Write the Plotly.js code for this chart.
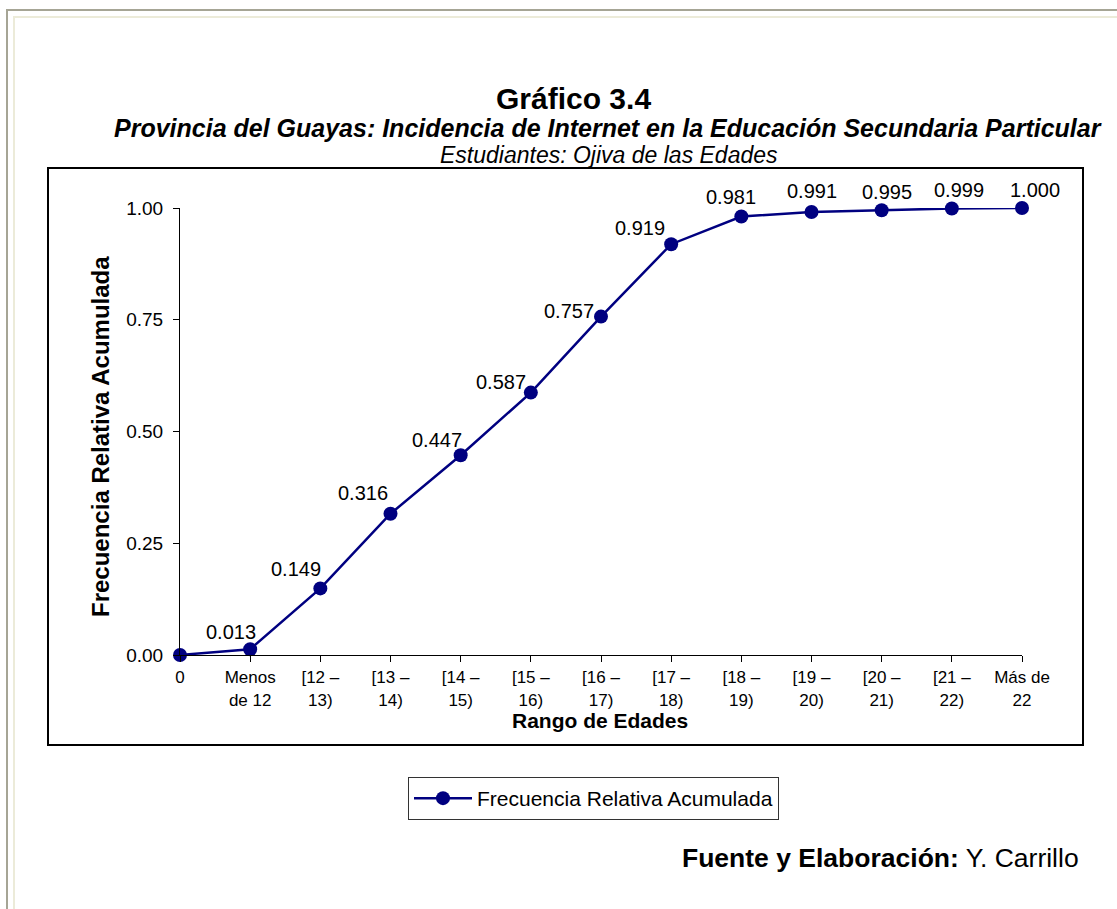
<!DOCTYPE html>
<html>
<head>
<meta charset="utf-8">
<script src="https://cdn.plot.ly/plotly-3.0.1.min.js"></script>
<style>
html,body{margin:0;padding:0;background:#fff;}
#chart{width:1117px;height:909px;}
</style>
</head>
<body>
<div id="chart"></div>
<script>
// ---- data ----
const categories = ["0","Menos<br>de 12","[12 –<br>13)","[13 –<br>14)","[14 –<br>15)","[15 –<br>16)","[16 –<br>17)","[17 –<br>18)","[18 –<br>19)","[19 –<br>20)","[20 –<br>21)","[21 –<br>22)","Más de<br>22"];
const cumFreq = [0, 0.013, 0.149, 0.316, 0.447, 0.587, 0.757, 0.919, 0.981, 0.991, 0.995, 0.999, 1.000];
const pointLabels = ["", "0.013", "0.149", "0.316", "0.447", "0.587", "0.757", "0.919", "0.981", "0.991", "0.995", "0.999", "1.000"];
const yTickVals = [0, 0.25, 0.5, 0.75, 1];
const yTickText = ["0.00", "0.25", "0.50", "0.75", "1.00"];
const seriesName = "Frecuencia Relativa Acumulada";
const xTitle = "Rango de Edades";
const yTitle = "Frecuencia Relativa Acumulada";

// label offsets (style only, pixels relative to each point)
const labelDX = [0, -19, -24, -28, -24, -30, -32, -31, -10, 0, 5, 7, 13];
const labelDY = [0, 17, 19, 21, 15, 11, 6, 16, 19, 21, 18, 18, 18];

// ---- layout geometry (pixels) ----
const W = 1117, H = 909;
const PL = 180, PR = 1022, PT = 208, PB = 655;
const px = x => (x - PL) / (PR - PL);
const py = y => (PB - y) / (PB - PT);

const FONT = "Liberation Sans, Arial, sans-serif";
const navy = "#000080";

const trace = {
  type: "scatter",
  mode: "lines+markers",
  x: categories,
  y: cumFreq,
  line: {color: navy, width: 2.5},
  marker: {color: navy, size: 14},
  name: seriesName,
  cliponaxis: false,
  hoverinfo: "x+y"
};

const labelAnnotations = categories.map((c, i) => ({
  x: c, y: cumFreq[i], xref: "x", yref: "y",
  text: pointLabels[i], showarrow: false,
  xanchor: "center", yanchor: "middle",
  xshift: labelDX[i], yshift: labelDY[i],
  font: {family: FONT, size: 20, color: "#000"}
})).filter(a => a.text !== "");

const layout = {
  width: W, height: H,
  paper_bgcolor: "#fff",
  plot_bgcolor: "#fff",
  margin: {l: PL, r: W - PR, t: PT, b: H - PB, pad: 0},
  font: {family: FONT, color: "#000"},
  showlegend: true,
  legend: {
    x: px(408), y: py(777), xanchor: "left", yanchor: "top",
    bordercolor: "#333", borderwidth: 1, bgcolor: "rgba(255,255,255,0)",
    font: {family: FONT, size: 21, color: "#000"},
    orientation: "h",
    itemwidth: 58,
    tracegroupgap: 0
  },
  xaxis: {
    type: "category",
    range: [0, 12],
    showgrid: false, zeroline: false,
    showline: true, linecolor: "#000", linewidth: 1,
    ticks: "outside", ticklen: 6, tickcolor: "#000", tickwidth: 1,
    tickfont: {family: FONT, size: 17, color: "#000"},
    ticklabelstandoff: 1,
    fixedrange: true
  },
  yaxis: {
    range: [0, 1],
    tickvals: yTickVals, ticktext: yTickText,
    showgrid: false, zeroline: false,
    showline: true, linecolor: "#000", linewidth: 1,
    ticks: "outside", ticklen: 6, tickcolor: "#000", tickwidth: 1,
    tickfont: {family: FONT, size: 19, color: "#000"},
    ticklabelstandoff: 6,
    fixedrange: true
  },
  shapes: [
    // outer page frame
    {type: "line", xref: "paper", yref: "paper", x0: px(7), x1: px(7), y0: py(10), y1: py(909), line: {color: "#a6a595", width: 2}},
    {type: "line", xref: "paper", yref: "paper", x0: px(6), x1: px(1117), y0: py(10), y1: py(10), line: {color: "#a6a595", width: 2}},
    {type: "line", xref: "paper", yref: "paper", x0: px(14), x1: px(14), y0: py(17), y1: py(909), line: {color: "#ecebd9", width: 2}},
    {type: "line", xref: "paper", yref: "paper", x0: px(13), x1: px(1117), y0: py(17), y1: py(17), line: {color: "#ecebd9", width: 2}},
    // chart box
    {type: "rect", xref: "paper", yref: "paper", x0: px(48), x1: px(1083), y0: py(168), y1: py(745), line: {color: "#000", width: 2}, layer: "below"}
  ],
  annotations: labelAnnotations.concat([
    {xref: "paper", yref: "paper", x: px(573), y: py(98), xanchor: "center", yanchor: "middle", showarrow: false,
     text: "<b>Gráfico 3.4</b>", font: {family: FONT, size: 30, color: "#000"}},
    {xref: "paper", yref: "paper", x: px(608), y: py(128), xanchor: "center", yanchor: "middle", showarrow: false,
     text: "<b><i>Provincia del Guayas: Incidencia de Internet en la Educación Secundaria Particular</i></b>", font: {family: FONT, size: 25, color: "#000"}},
    {xref: "paper", yref: "paper", x: px(609), y: py(155), xanchor: "center", yanchor: "middle", showarrow: false,
     text: "<i>Estudiantes: Ojiva de las Edades</i>", font: {family: FONT, size: 23, color: "#000"}},
    {xref: "paper", yref: "paper", x: px(600), y: py(720), xanchor: "center", yanchor: "middle", showarrow: false,
     text: "<b>" + xTitle + "</b>", font: {family: FONT, size: 21, color: "#000"}},
    {xref: "paper", yref: "paper", x: px(100), y: py(437), xanchor: "center", yanchor: "middle", showarrow: false, textangle: -90,
     text: "<b>" + yTitle + "</b>", font: {family: FONT, size: 24, color: "#000"}},
    {xref: "paper", yref: "paper", x: px(1081), y: py(858), xanchor: "right", yanchor: "middle", showarrow: false,
     text: "<b>Fuente y Elaboración:</b> Y. Carrillo", font: {family: FONT, size: 26.5, color: "#000"}}
  ])
};

Plotly.newPlot("chart", [trace], layout, {displayModeBar: false, staticPlot: true});
</script>
</body>
</html>
